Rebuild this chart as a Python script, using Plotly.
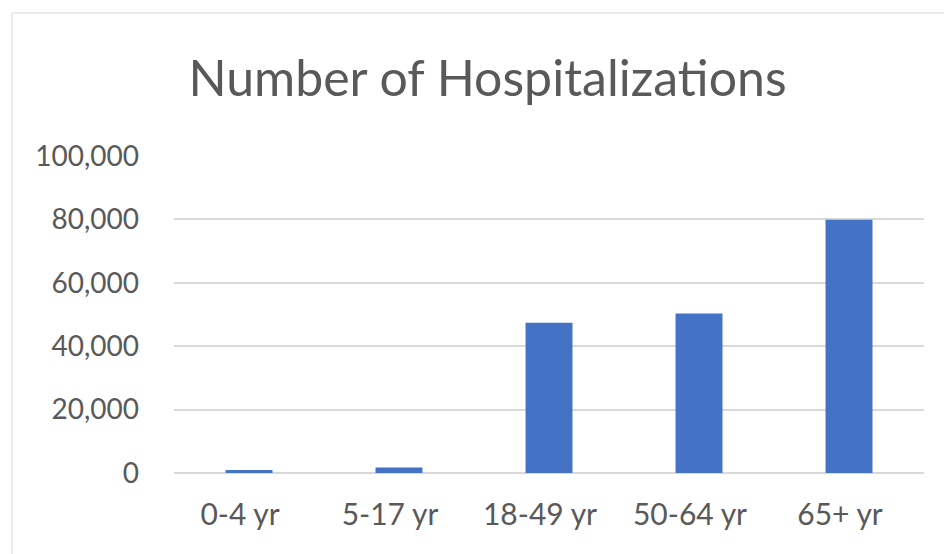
import plotly.graph_objects as go

categories = ["0-4 yr", "5-17 yr", "18-49 yr", "50-64 yr", "65+ yr"]
hospitalizations = [950, 1700, 47400, 50300, 79900]
tick_values = [0, 20000, 40000, 60000, 80000, 100000]
tick_labels = ["0", "20,000", "40,000", "60,000", "80,000", "100,000"]
title_text = "Number of Hospitalizations"

# page has an 8px body margin; work in page coordinates and convert
OFF = 8
W, H = 952 - OFF, 554 - OFF
plot_left, plot_right, plot_top, plot_bottom = 174, 924, 156, 473
L = plot_left - OFF
T = plot_top - OFF
R = W - (plot_right - OFF)
B = H - (plot_bottom - OFF)
plot_w = W - L - R
plot_h = H - T - B

def px_x(px):
    return (px - OFF - L) / plot_w

def px_y(py):
    return (H - B - (py - OFF)) / plot_h

fig = go.Figure(
    go.Bar(
        x=categories,
        y=hospitalizations,
        marker=dict(color="#4472C4", line=dict(width=0)),
        hoverinfo="x+y",
    )
)

fig.update_layout(
    width=W,
    height=H,
    margin=dict(l=L, r=R, t=T, b=B),
    paper_bgcolor="white",
    plot_bgcolor="white",
    bargap=0.687,
    showlegend=False,
    title=dict(
        text=title_text,
        x=(487.5 - OFF) / W,
        xanchor="center",
        y=1 - (78 - OFF) / H,
        yanchor="middle",
        font=dict(family="Lato", size=50, color="#595959"),
    ),
    font=dict(family="Lato", color="#595959"),
    shapes=[
        dict(type="line", xref="paper", yref="paper",
             x0=px_x(12), x1=px_x(960), y0=px_y(13), y1=px_y(13),
             line=dict(color="#d9d9d9", width=1)),
        dict(type="line", xref="paper", yref="paper",
             x0=px_x(12), x1=px_x(12), y0=px_y(13), y1=px_y(570),
             line=dict(color="#d9d9d9", width=1)),
    ],
)

fig.update_xaxes(
    showgrid=False,
    showline=False,
    ticks="",
    tickfont=dict(family="Lato", size=30, color="#595959"),
    ticklabelshift=-9,
    ticklabelstandoff=21,
)

fig.update_yaxes(
    range=[0, 100000],
    tickvals=tick_values,
    ticktext=tick_labels,
    showgrid=True,
    gridcolor="#d9d9d9",
    gridwidth=2,
    zeroline=True,
    zerolinecolor="#d9d9d9",
    zerolinewidth=2,
    showline=False,
    ticks="",
    tickfont=dict(family="Lato", size=28, color="#595959"),
    ticklabelstandoff=34,
)

fig.write_html("out.html")
